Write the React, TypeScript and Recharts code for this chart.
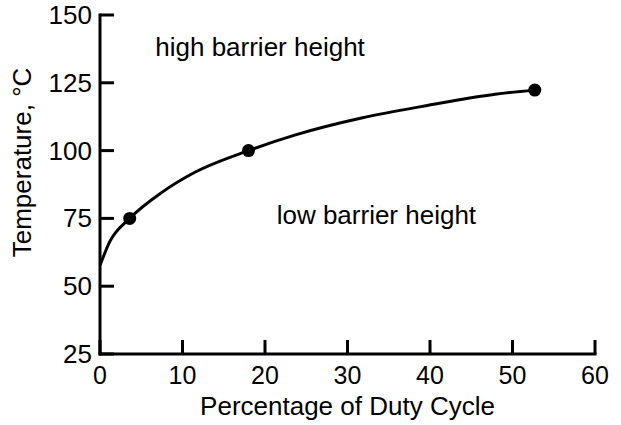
import { ComposedChart, Line, Scatter, XAxis, YAxis, ReferenceDot } from 'recharts';

const xTicks = [0, 10, 20, 30, 40, 50, 60];
const yTicks = [25, 50, 75, 100, 125, 150];

// smooth fitted curve
const curveX = [0, 1.2, 3.6, 7.5, 11.5, 18, 23.6, 31.7, 39.8, 47.9, 52.7];
const curveY = [57.7, 66.5, 75, 84.6, 92, 100, 105.7, 112, 116.7, 120.8, 122.3];

// measured points
const pointX = [3.6, 18, 52.7];
const pointY = [75, 100, 122.3];

const fitData = curveX.map((x, i) => ({ x, y: curveY[i] }));
const pointData = pointX.map((x, i) => ({ x, y: pointY[i] }));

const FONT = '"Liberation Sans", Arial, Helvetica, sans-serif';
const FS = 26;
const TICK_FS = 25;
const TICK = 14;
const axisLine = { stroke: '#000', strokeWidth: 3, strokeLinecap: 'square' as const };

// ticks point into the plot
const XTick = ({ x, y, payload }: any) => (
  <g>
    <line x1={x} y1={y} x2={x} y2={y - TICK} stroke="#000" strokeWidth={3} />
    <text x={x} y={y + 30} textAnchor="middle" fill="#000" fontSize={TICK_FS} fontFamily={FONT}>
      {payload.value}
    </text>
  </g>
);

const YTick = ({ x, y, payload }: any) => (
  <g>
    <line x1={x} y1={y} x2={x + TICK} y2={y} stroke="#000" strokeWidth={3} />
    <text x={x - 8} y={y + 9} textAnchor="end" fill="#000" fontSize={FS} fontFamily={FONT}>
      {payload.value}
    </text>
  </g>
);

const YLabel = ({ viewBox }: any) => {
  const cx = viewBox.x + 22;
  const cy = viewBox.y + viewBox.height * 0.435;
  return (
    <text
      x={cx}
      y={cy}
      transform={`rotate(-90 ${cx} ${cy})`}
      textAnchor="middle"
      dominantBaseline="central"
      fill="#000"
      fontSize={FS}
      fontFamily={FONT}
    >
      Temperature, °C
    </text>
  );
};

const Dot = (p: any) => <circle cx={p.cx} cy={p.cy} r={6.5} fill="#000" />;

export default function App() {
  return (
    <div style={{ position: 'absolute', left: 0, top: 0, background: '#fff' }}>
      <ComposedChart
        width={621}
        height={425}
        margin={{ top: 15, right: 26, left: 0, bottom: 0 }}
        style={{ fontFamily: FONT }}
      >
        <XAxis
          type="number"
          dataKey="x"
          domain={[0, 60]}
          ticks={xTicks}
          height={71}
          tickSize={0}
          tickMargin={0}
          axisLine={axisLine}
          tickLine={false}
          tick={XTick}
          interval={0}
          allowDataOverflow
          label={{
            value: 'Percentage of Duty Cycle',
            position: 'insideBottom',
            offset: 10,
            fill: '#000',
            fontSize: FS,
            fontFamily: FONT,
          }}
        />
        <YAxis
          type="number"
          dataKey="y"
          domain={[25, 150]}
          ticks={yTicks}
          width={100}
          tickSize={0}
          tickMargin={0}
          axisLine={axisLine}
          tickLine={false}
          tick={YTick}
          interval={0}
          allowDataOverflow
          label={{ content: YLabel }}
        />
        <Line
          data={fitData}
          dataKey="y"
          type="monotone"
          stroke="#000"
          strokeWidth={3}
          dot={false}
          activeDot={false}
          isAnimationActive={false}
        />
        <Scatter data={pointData} dataKey="y" fill="#000" shape={Dot} isAnimationActive={false} />
        <ReferenceDot
          x={19.4}
          y={138.2}
          r={0}
          fill="none"
          stroke="none"
          label={{ value: 'high barrier height', position: 'center', fill: '#000', fontSize: FS, fontFamily: FONT }}
        />
        <ReferenceDot
          x={33.5}
          y={76.5}
          r={0}
          fill="none"
          stroke="none"
          label={{ value: 'low barrier height', position: 'center', fill: '#000', fontSize: FS, fontFamily: FONT }}
        />
      </ComposedChart>
    </div>
  );
}
